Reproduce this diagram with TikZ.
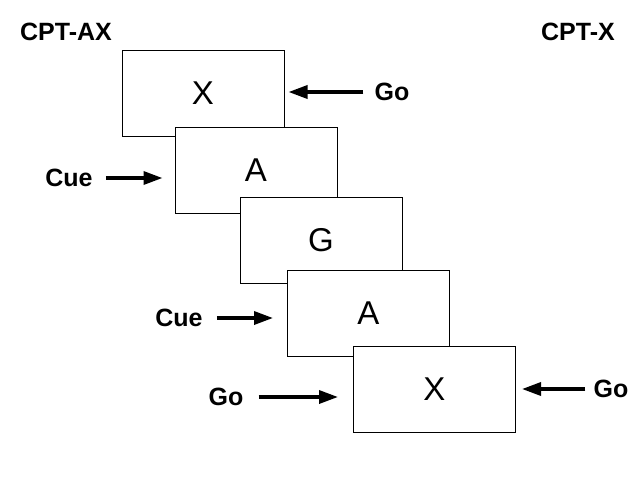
\documentclass[tikz,border=0pt]{standalone}
\usepackage{fontspec}
\setmainfont{Liberation Sans}
\usetikzlibrary{arrows.meta}

\begin{document}
\begin{tikzpicture}[x=1pt,y=-1pt,
  card/.style={draw,fill=white,line width=1pt,minimum width=162pt,minimum height=86pt,
    inner sep=0pt,font=\fontsize{33}{40}\selectfont},
  cue/.style={inner sep=0pt,font=\fontsize{25}{30}\selectfont\bfseries},
  arr/.style={line width=3.4pt,-{Triangle[length=19pt,width=13pt]}}]
\useasboundingbox (0,0) rectangle (640,480);
% titles
\node[cue] (tAX) at (66,32) {CPT-AX};
\node[cue] (tX) at (578,32) {CPT-X};
% stimulus cards
\node[card] (x1) at (203,93.5) {X};
\node[card] (a1) at (256,170) {A};
\node[card] (g1) at (321,240) {G};
\node[card] (a2) at (368.5,313) {A};
\node[card] (x2) at (434.5,389) {X};
% labels
\node[cue] (go1) at (392,92) {Go};
\node[cue] (cue1) at (69,178) {Cue};
\node[cue] (cue2) at (179,318) {Cue};
\node[cue] (go2) at (226,397) {Go};
\node[cue] (go3) at (611,389) {Go};
% arrows
\draw[arr,shorten <=11pt,shorten >=4pt] (go1.west) -- (go1.west -| x1.east);
\draw[arr,shorten <=13pt,shorten >=12pt] (cue1.east) -- (cue1.east -| a1.west);
\draw[arr,shorten <=14pt,shorten >=14pt] (cue2.east) -- (cue2.east -| a2.west);
\draw[arr,shorten <=15pt,shorten >=15pt] (go2.east) -- (go2.east -| x2.west);
\draw[arr,shorten <=8pt,shorten >=6pt] (go3.west) -- (go3.west -| x2.east);
\end{tikzpicture}
\end{document}
